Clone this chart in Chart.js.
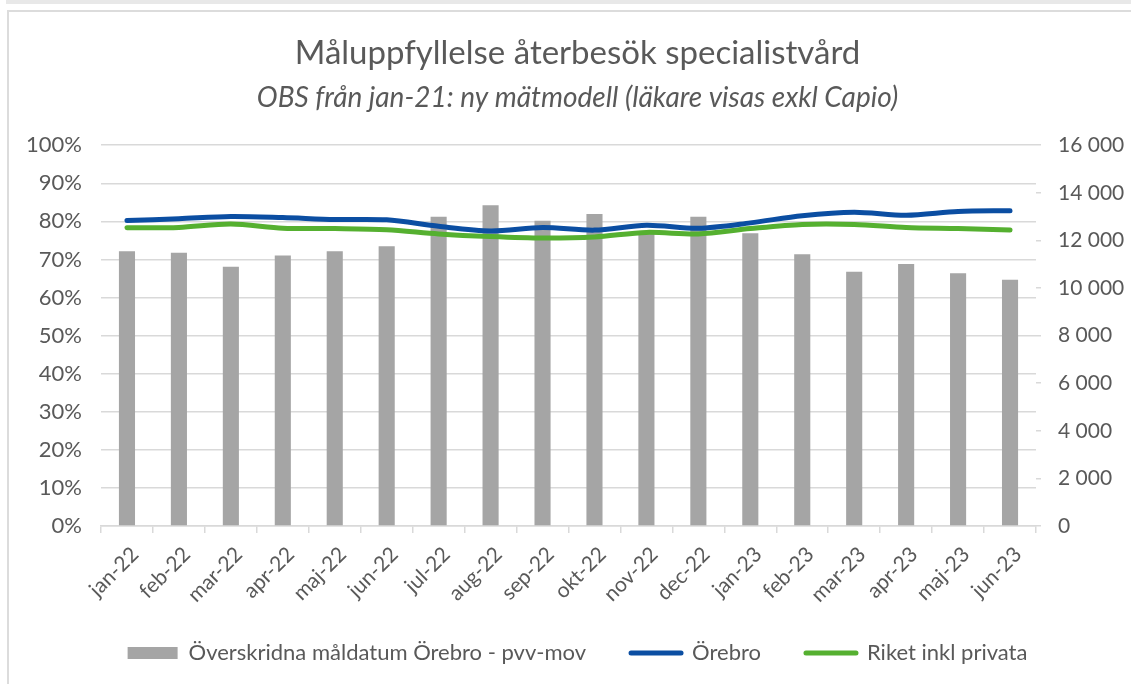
<!DOCTYPE html>
<html lang="sv">
<head>
<meta charset="UTF-8">
<title>Måluppfyllelse återbesök specialistvård</title>
<script src="https://cdn.jsdelivr.net/npm/chart.js"></script>
<style>
    body {
        margin: 0;
        padding: 0;
        background: #fff;
        overflow: hidden;
    }
    .page {
        position: relative;
        width: 1131px;
        height: 684px;
    }
    /* ramar från kalkylbladet */
    .topline {
        position: absolute;
        left: 6px;
        top: 0;
        right: 0;
        height: 4px;
        background: #e8e8e8;
    }
    .frame {
        position: absolute;
        left: 7px;
        top: 10px;
        right: -4px;
        bottom: -4px;
        border-top: 2px solid #dcdcdc;
        border-left: 2px solid #dcdcdc;
    }
    canvas {
        position: absolute;
        left: 0;
        top: 0;
    }
</style>
</head>
<body>
<div class="page">
    <div class="topline"></div>
    <div class="frame"></div>
    <canvas id="chart" width="1131" height="684"></canvas>
</div>

<script>
    const months = ['jan-22', 'feb-22', 'mar-22', 'apr-22', 'maj-22', 'jun-22', 'jul-22', 'aug-22', 'sep-22',
                    'okt-22', 'nov-22', 'dec-22', 'jan-23', 'feb-23', 'mar-23', 'apr-23', 'maj-23', 'jun-23'];
    // antal överskridna måldatum (höger axel)
    const overskridna = [11540, 11480, 10890, 11370, 11540, 11750, 12990, 13480, 12830,
                         13110, 12400, 12990, 12300, 11420, 10680, 11010, 10620, 10350];
    // måluppfyllelse i procent (vänster axel)
    const orebro = [80.2, 80.7, 81.3, 81.0, 80.5, 80.4, 78.7, 77.5, 78.4,
                    77.7, 79.0, 78.2, 79.6, 81.5, 82.4, 81.6, 82.6, 82.8];
    const riket = [78.3, 78.4, 79.3, 78.2, 78.1, 77.8, 76.7, 76.0, 75.6,
                   75.9, 77.1, 76.7, 78.1, 79.2, 79.2, 78.4, 78.1, 77.7];

    const FONT = "Lato, 'Open Sans', sans-serif";
    const TEXT = '#595959';
    const GRID = '#d9d9d9';

    function thousands(v) {
        return String(v).replace(/\B(?=(\d{3})+(?!\d))/g, '\u00a0');
    }

    // x-etiketterna får gå ner under legendens ruta utan att klippas
    const unclipLabels = {
        id: 'unclipLabels',
        afterLayout(c) {
            c.scales.x.bottom = c.height;
        }
    };

    const ctx = document.getElementById('chart').getContext('2d');
    const chart = new Chart(ctx, {
        data: {
            labels: months,
            datasets: [
                {
                    type: 'bar',
                    label: 'Överskridna måldatum Örebro - pvv-mov',
                    data: overskridna,
                    yAxisID: 'yRight',
                    backgroundColor: '#a5a5a5',
                    borderWidth: 0,
                    barPercentage: 0.31,
                    categoryPercentage: 1,
                    order: 3
                },
                {
                    type: 'line',
                    label: 'Örebro',
                    data: orebro,
                    yAxisID: 'yLeft',
                    borderColor: '#0b4ea2',
                    backgroundColor: '#0b4ea2',
                    borderWidth: 5,
                    borderCapStyle: 'round',
                    pointRadius: 0,
                    tension: 0.3,
                    order: 1
                },
                {
                    type: 'line',
                    label: 'Riket inkl privata',
                    data: riket,
                    yAxisID: 'yLeft',
                    borderColor: '#55b030',
                    backgroundColor: '#55b030',
                    borderWidth: 5,
                    borderCapStyle: 'round',
                    pointRadius: 0,
                    tension: 0.3,
                    order: 2
                }
            ]
        },
        options: {
            responsive: false,
            animation: false,
            layout: {
                padding: { left: 24, right: 0, top: 0, bottom: 10 }
            },
            scales: {
                x: {
                    offset: true,
                    grid: {
                        offset: true,
                        drawOnChartArea: false,
                        color: GRID,
                        lineWidth: 1.5,
                        tickLength: 7
                    },
                    border: { color: GRID, width: 1.5 },
                    ticks: {
                        color: TEXT,
                        font: { family: FONT, size: 21 },
                        maxRotation: 45,
                        minRotation: 45,
                        padding: 9,
                        labelOffset: 8,
                        autoSkip: false
                    },
                    afterFit: (scale) => { scale.height = 71; }
                },
                yLeft: {
                    position: 'left',
                    min: 0,
                    max: 100,
                    grid: {
                        color: GRID,
                        lineWidth: 1.5,
                        drawTicks: false
                    },
                    border: { display: false },
                    ticks: {
                        stepSize: 10,
                        color: TEXT,
                        padding: 19,
                        font: { family: FONT, size: 22 },
                        callback: (v) => v + '%'
                    },
                    afterFit: (scale) => { scale.width = 77; }
                },
                yRight: {
                    position: 'right',
                    min: 0,
                    max: 16000,
                    grid: {
                        drawOnChartArea: false,
                        color: GRID,
                        lineWidth: 1.5,
                        tickLength: 5
                    },
                    border: { display: false },
                    ticks: {
                        stepSize: 2000,
                        color: TEXT,
                        padding: 17,
                        font: { family: FONT, size: 21 },
                        callback: (v) => thousands(v)
                    },
                    afterFit: (scale) => { scale.width = 95; }
                }
            },
            plugins: {
                title: {
                    display: true,
                    text: 'Måluppfyllelse återbesök specialistvård',
                    color: TEXT,
                    font: { family: FONT, size: 33, weight: 'normal', lineHeight: 1.2 },
                    padding: { top: 34, bottom: 0 }
                },
                subtitle: {
                    display: true,
                    text: 'OBS från jan-21: ny mätmodell (läkare visas exkl Capio)',
                    color: TEXT,
                    font: { family: FONT, size: 28, style: 'italic', lineHeight: 1.2 },
                    padding: { top: 8, bottom: 30 }
                },
                legend: {
                    position: 'bottom',
                    labels: {
                        color: TEXT,
                        font: { family: FONT, size: 22 },
                        padding: 45,
                        usePointStyle: true,
                        pointStyleWidth: 50,
                        boxHeight: 12,
                        generateLabels: (c) => {
                            const items = Chart.defaults.plugins.legend.labels.generateLabels(c);
                            items.forEach((it) => {
                                const ds = c.data.datasets[it.datasetIndex];
                                if (ds.type === 'bar') {
                                    it.pointStyle = 'rect';
                                    it.lineWidth = 0;
                                    it.fillStyle = ds.backgroundColor;
                                } else {
                                    it.pointStyle = 'line';
                                    it.lineWidth = 5;
                                    it.strokeStyle = ds.borderColor;
                                    it.lineCap = 'round';
                                }
                            });
                            return items.sort((a, b) => a.datasetIndex - b.datasetIndex);
                        }
                    }
                },
                tooltip: { enabled: false }
            }
        },
        plugins: [unclipLabels]
    });
</script>
</body>
</html>
